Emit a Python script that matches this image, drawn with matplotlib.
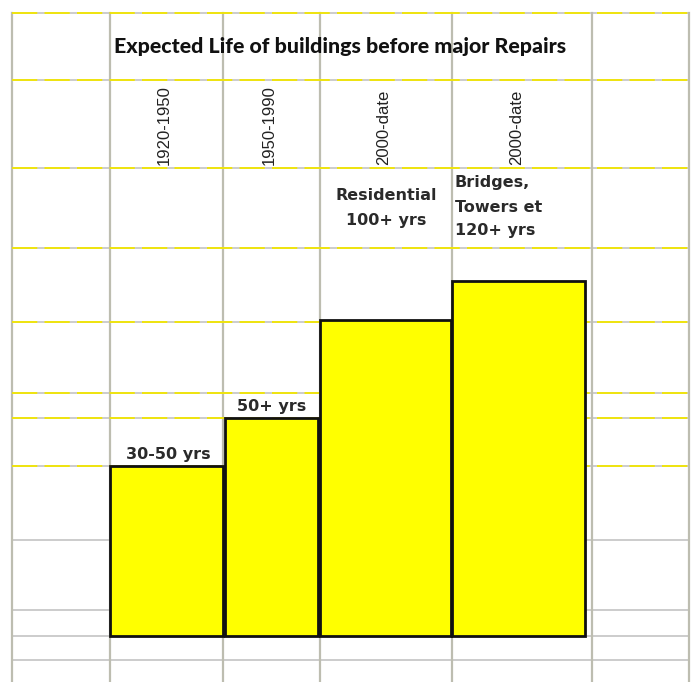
import matplotlib.pyplot as plt

# sheet content
periods = ["1920-1950", "1950-1990", "2000-date", "2000-date"]
life_labels = ["30-50 yrs", "50+ yrs", "Residential\n100+ yrs", "Bridges,\nTowers et\n120+ yrs"]
bar_heights = [170, 218, 316, 355]
title = "Expected Life of buildings before major Repairs"

W, H = 692, 682

# sheet grid, in pixels from the top-left corner
col_lines = [12, 110, 223, 320, 452, 592, 689]
row_lines = [13, 80, 168, 248, 322, 393, 418, 466, 540, 610, 636, 660]
yellow_rows = [13, 80, 168, 248, 322, 393, 418, 466]
bar_left = [110, 225, 320, 452]
bar_width = [113, 93, 131, 133]
baseline = 636

fig = plt.figure(figsize=(W / 100, H / 100), dpi=100)
ax = fig.add_axes([0, 0, 1, 1])
ax.set_xlim(0, W)
ax.set_ylim(0, H)
ax.axis("off")


def yy(py):
    return H - py


# cell borders
for r in row_lines:
    ax.plot([col_lines[0], col_lines[-1]], [yy(r), yy(r)], color="#c4c4c4", lw=1.2, zorder=1)
    if r in yellow_rows:
        ax.plot([col_lines[0], col_lines[-1]], [yy(r), yy(r)], color="#f2e600",
                lw=1.3, ls=(0, (14, 4)), zorder=1.5)
for c in col_lines:
    ax.plot([c, c], [yy(row_lines[0]), 0], color="#bdbdb0", lw=1.6, zorder=1)

# bars
ax.bar(bar_left, bar_heights, width=bar_width, bottom=yy(baseline), align="edge",
       color="#ffff00", edgecolor="#111111", linewidth=2, zorder=3)

# title row
ax.text(340, yy(46), title, ha="center", va="center",
        fontsize=15.4, fontweight="black", family="Lato", color="#111111")

# rotated period headers
for i, p in enumerate(periods):
    cx = bar_left[i] + bar_width[i] / 2 - 2
    ax.text(cx, yy(165), p, rotation=90, ha="center", va="bottom",
            fontsize=12, family="Liberation Sans", color="#222222")

# life labels above the bars
lbl_font = dict(fontsize=11.5, fontweight="bold", family="DejaVu Sans", color="#2a2a2a")
ax.text(168, yy(455), life_labels[0], ha="center", va="center",
        bbox=dict(fc="white", ec="none", pad=2), zorder=4, **lbl_font)
ax.text(272, yy(407), life_labels[1], ha="center", va="center",
        bbox=dict(fc="white", ec="none", pad=2), zorder=4, **lbl_font)
ax.text(386, yy(208), life_labels[2], ha="center", va="center", linespacing=1.75,
        zorder=4, **lbl_font)
ax.text(455, yy(207), life_labels[3], ha="left", va="center", linespacing=1.75,
        zorder=4, **lbl_font)

fig.savefig("out.png", dpi=100)
